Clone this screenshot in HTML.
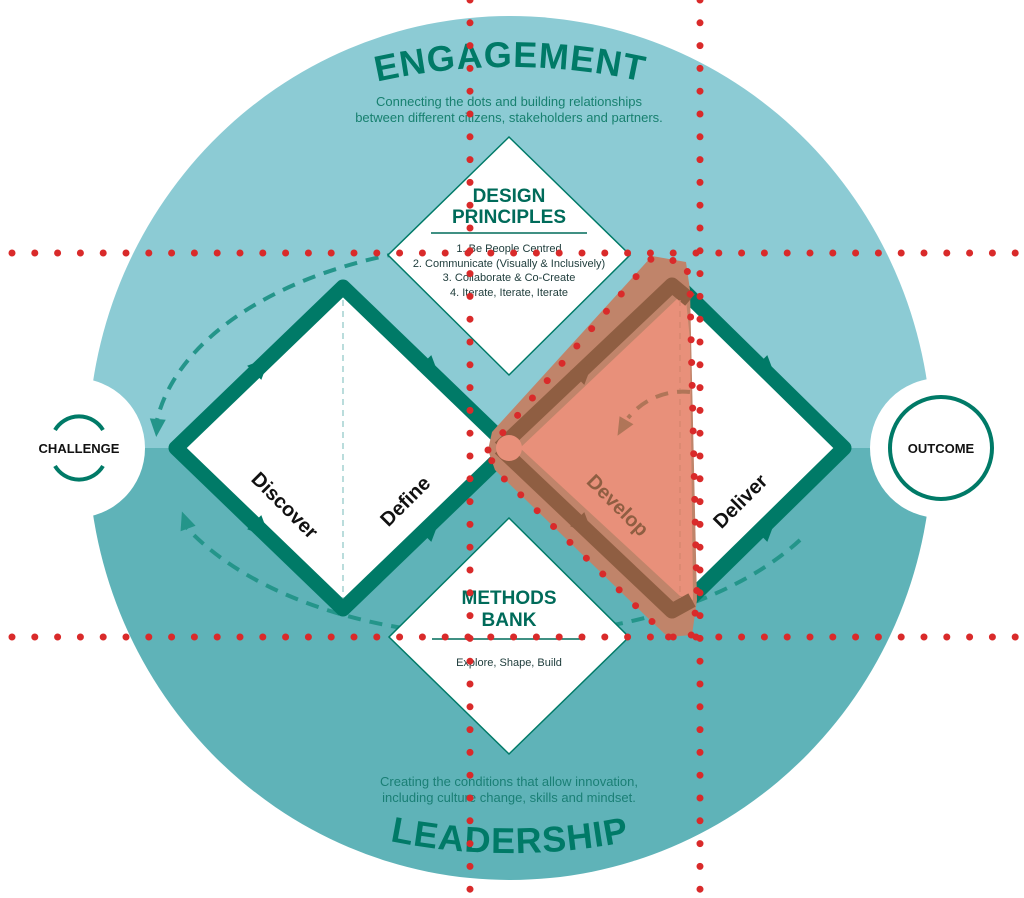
<!DOCTYPE html>
<html><head><meta charset="utf-8"><style>
html,body{margin:0;padding:0;background:#fff;}
svg{display:block;font-family:"Liberation Sans",sans-serif;}
</style></head><body>
<svg width="1024" height="898" viewBox="0 0 1024 898" xmlns="http://www.w3.org/2000/svg">
<defs>
<clipPath id="top"><rect x="0" y="0" width="1024" height="448"/></clipPath>
<clipPath id="bot"><rect x="0" y="448" width="1024" height="450"/></clipPath>
<path id="arcTop" d="M 110 216.5 A 610 610 0 0 1 910 216.5"/>
<path id="arcBot" d="M 110 702 A 605 605 0 0 0 910 702"/>
</defs>
<!-- big circle -->
<ellipse cx="510" cy="448" rx="422" ry="432" fill="#8ccbd4" clip-path="url(#top)"/>
<ellipse cx="510" cy="448" rx="422" ry="432" fill="#5fb3b8" clip-path="url(#bot)"/>
<!-- challenge / outcome white circles -->
<circle cx="75" cy="448" r="70" fill="#fff"/>
<circle cx="940" cy="448" r="70" fill="#fff"/>
<path d="M55 430 A28 28 0 0 1 103 430" fill="none" stroke="#007a67" stroke-width="4"/>
<path d="M55 466 A28 28 0 0 0 103 466" fill="none" stroke="#007a67" stroke-width="4"/>
<text x="79" y="453" font-size="13" font-weight="bold" text-anchor="middle" fill="#111">CHALLENGE</text>
<circle cx="941" cy="448" r="51" fill="none" stroke="#007a67" stroke-width="4"/>
<text x="941" y="453" font-size="13" font-weight="bold" text-anchor="middle" fill="#111">OUTCOME</text>

<!-- titles -->
<text font-size="36" font-weight="bold" fill="#007a67" letter-spacing="1"><textPath href="#arcTop" startOffset="50%" text-anchor="middle">ENGAGEMENT</textPath></text>
<text font-size="36" font-weight="bold" fill="#007a67" letter-spacing="1"><textPath href="#arcBot" startOffset="50%" text-anchor="middle">LEADERSHIP</textPath></text>
<text x="509" y="106" font-size="13" text-anchor="middle" fill="#17806f">Connecting the dots and building relationships</text>
<text x="509" y="122" font-size="13" text-anchor="middle" fill="#17806f">between different citizens, stakeholders and partners.</text>
<text x="509" y="786" font-size="13" text-anchor="middle" fill="#1a7f75">Creating the conditions that allow innovation,</text>
<text x="509" y="802" font-size="13" text-anchor="middle" fill="#1a7f75">including culture change, skills and mindset.</text>

<!-- dashed loops -->
<g fill="none" stroke="#24958a" stroke-width="4" stroke-dasharray="13 9">
<path d="M400 253 A355 205 0 0 0 157 420"/>
<path d="M800 540 A355 205 0 0 1 187 528"/>
<path d="M735 435 A70 70 0 0 0 690 392"/>
</g>
<polygon points="-9,-8 9,0 -9,8" fill="#24958a" transform="translate(157,428) rotate(95)"/>
<polygon points="-9,-8 9,0 -9,8" fill="#24958a" transform="translate(185,520) rotate(-110)"/>

<!-- design principles diamond -->
<polygon points="509,137 630,255 509,375 388,255" fill="#fff" stroke="#007a67" stroke-width="1.5"/>
<text x="509" y="202" font-size="19" font-weight="bold" text-anchor="middle" fill="#006b5a">DESIGN</text>
<text x="509" y="223" font-size="19" font-weight="bold" text-anchor="middle" fill="#006b5a">PRINCIPLES</text>
<line x1="431" y1="233" x2="587" y2="233" stroke="#006b5a" stroke-width="1.5"/>
<g font-size="11" text-anchor="middle" fill="#1d3b3a">
<text x="509" y="252">1. Be People Centred</text>
<text x="509" y="267">2. Communicate (Visually &amp; Inclusively)</text>
<text x="509" y="281">3. Collaborate &amp; Co-Create</text>
<text x="509" y="296">4. Iterate, Iterate, Iterate</text>
</g>
<!-- methods bank diamond -->
<polygon points="509,518 629,637 509,754 389,637" fill="#fff" stroke="#007a67" stroke-width="1.5"/>
<text x="509" y="604" font-size="19" font-weight="bold" text-anchor="middle" fill="#006b5a">METHODS</text>
<text x="509" y="626" font-size="19" font-weight="bold" text-anchor="middle" fill="#006b5a">BANK</text>
<line x1="432" y1="639" x2="585" y2="639" stroke="#006b5a" stroke-width="1.5"/>
<text x="509" y="666" font-size="11" text-anchor="middle" fill="#1d3b3a">Explore, Shape, Build</text>

<!-- diamonds -->
<path d="M176 448 L343 287 L510 448 L343 609 Z" fill="#fff" stroke="#007a67" stroke-width="15" stroke-linejoin="round"/>
<path d="M510 448 L680 287 L844 448 L680 609 Z" fill="#fff" stroke="#007a67" stroke-width="15" stroke-linejoin="round"/>
<line x1="343" y1="300" x2="343" y2="598" stroke="#8cc6c4" stroke-width="1.2" stroke-dasharray="6 5"/>
<line x1="680" y1="300" x2="680" y2="598" stroke="#8cc6c4" stroke-width="1.2" stroke-dasharray="6 5"/>
<g fill="#007a67">
<polygon points="-11,-10 11,0 -11,10" transform="translate(262,365) rotate(-45)"/>
<polygon points="-11,-10 11,0 -11,10" transform="translate(432,370) rotate(45)"/>
<polygon points="-11,-10 11,0 -11,10" transform="translate(262,530) rotate(45)"/>
<polygon points="-11,-10 11,0 -11,10" transform="translate(432,527) rotate(-45)"/>
<polygon points="-11,-10 11,0 -11,10" transform="translate(768,370) rotate(45)"/>
<polygon points="-11,-10 11,0 -11,10" transform="translate(768,527) rotate(-45)"/>
</g>

<!-- orange overlay -->
<polygon points="492,432 652,256 686,262 690,290 697,600 692,635 668,637 652,622 495,470 488,450" fill="#c0846a"/>
<polygon points="520,448 678,298 686,300 690,340 693,600 680,596" fill="#e8907a"/>
<polyline points="500,448 672,285 690,300" fill="none" stroke="#8f5e42" stroke-width="15" stroke-linejoin="round"/>
<polyline points="500,448 672,611 692,600" fill="none" stroke="#8f5e42" stroke-width="15" stroke-linejoin="round"/>
<line x1="680" y1="300" x2="680" y2="598" stroke="#d4856e" stroke-width="1.2" stroke-dasharray="6 5"/>
<g fill="#8f5e42">
<polygon points="-11,-10 11,0 -11,10" transform="translate(585,370) rotate(-45)"/>
<polygon points="-11,-10 11,0 -11,10" transform="translate(585,527) rotate(45)"/>
</g>
<path d="M690 392 A70 70 0 0 0 628 418" fill="none" stroke="#b07558" stroke-width="4" stroke-dasharray="13 9"/>
<polygon points="-9,-8 9,0 -9,8" fill="#b07558" transform="translate(622,428) rotate(120)"/>
<circle cx="509" cy="448" r="13" fill="#e8907a"/>

<!-- phase labels -->
<g font-size="20" font-weight="bold">
<text transform="translate(280,510) rotate(45)" text-anchor="middle" fill="#111">Discover</text>
<text transform="translate(410,506) rotate(-45)" text-anchor="middle" fill="#111">Define</text>
<text transform="translate(613,510) rotate(45)" text-anchor="middle" fill="#8f5e42">Develop</text>
<text transform="translate(745,506) rotate(-45)" text-anchor="middle" fill="#111">Deliver</text>
</g>

<!-- red dotted lines -->
<g stroke="#d92a2a" stroke-width="7" stroke-linecap="round" stroke-dasharray="0 22.8" fill="none">
<line x1="12" y1="253" x2="1024" y2="253"/>
<line x1="12" y1="637" x2="1024" y2="637"/>
<line x1="470" y1="0" x2="470" y2="898"/>
<line x1="700" y1="0" x2="700" y2="898"/>
<polyline points="488,450 652,258 686,262 690,290 697,600 692,635 668,637 495,470 488,450"/>
</g>
</svg>
</body></html>
